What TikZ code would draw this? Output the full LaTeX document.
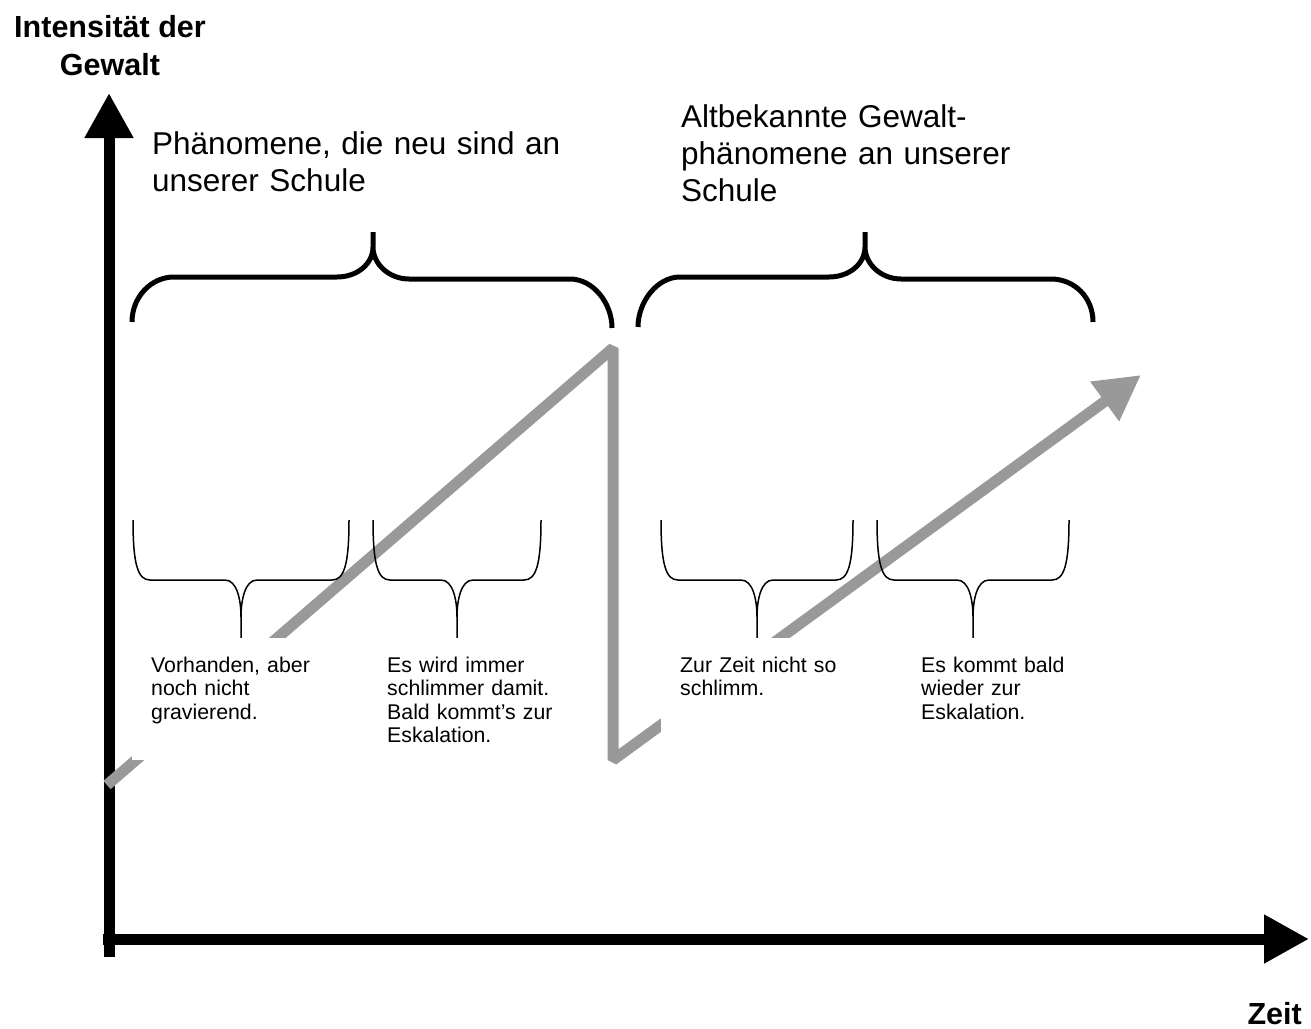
\documentclass[tikz,border=0pt]{standalone}
\usepackage{fontspec}
\setmainfont{Liberation Sans}
\usetikzlibrary{arrows.meta}
\definecolor{trendgray}{RGB}{153,153,153}

\begin{document}
\begin{tikzpicture}[x=1pt,y=-1pt,
	axis/.style={line width=11pt,-{Triangle[length=45pt,width=46pt]}},
	trend/.style={draw=trendgray,line width=11pt,line join=bevel,-{Triangle[length=45pt,width=46pt]}},
	bigbrace/.style={line width=5pt},
	smallbrace/.style={line width=1.5pt},
	phase/.style={fill=white,anchor=north west,text width=180pt,align=left,
		inner sep=0pt,inner xsep=19pt,text height=34pt,text depth=88pt,
		font=\fontsize{21.3}{23.5}\selectfont},
	heading/.style={anchor=base west,text width=460pt,align=left,inner sep=0pt,
		font=\fontsize{31.5}{37}\selectfont},
	axislabel/.style={inner sep=0pt,font=\fontsize{30.5}{38}\selectfont\bfseries}]
\useasboundingbox (0,0) rectangle (1311,1028);

\coordinate (ybot) at (109,957);
\coordinate (ytop) at (109,93);
\coordinate (xleft) at (103,939);
\coordinate (xright) at (1309,939);
\draw[axis] (ybot) -- (ytop);
\draw[axis] (xleft) -- (xright);

\coordinate (start) at (107,785);
\coordinate (peak) at (613,348);
\coordinate (drop) at (613,760);
\coordinate (goal) at (1141,375);
\draw[trend] (start) -- (peak) -- (drop) -- (goal);

\foreach \a/\m/\b/\l/\r in {132/373/612/322/328,638/865/1093/327/322}
	\draw[bigbrace] (\a,\l) .. controls +(0,-25) and +(-23,0) .. (\a+42,277) -- (\m-36,277)
		.. controls +(20,0) and +(0,17) .. (\m,247) -- (\m,232)
		(\m,247) .. controls +(0,17) and +(-20,0) .. (\m+36,279) -- (\b-42,279)
		.. controls +(23,0) and +(0,-25) .. (\b,\r);

\foreach \a/\m/\b in {133/241/349,373/457/541,661/757/853,877/973/1069}
	\draw[smallbrace] (\a,520) .. controls (\a,565) and (\a+5,580) .. (\a+17,580) -- (\m-16,580)
		.. controls (\m-4,580) and (\m,600) .. (\m,617) -- (\m,638)
		(\m,617) .. controls (\m,600) and (\m+4,580) .. (\m+16,580) -- (\b-17,580)
		.. controls (\b-5,580) and (\b,565) .. (\b,520);

\node[phase] (present) at (132,638) {Vorhanden, aber\\noch nicht\\gravierend.};
\node[phase] (worse) at (368,638) {Es wird immer\\schlimmer damit.\\Bald kommt’s zur\\Eskalation.};
\node[phase] (calm) at (661,638) {Zur Zeit nicht so\\schlimm.};
\node[phase] (again) at (902,638) {Es kommt bald\\wieder zur\\Eskalation.};

\node[heading] (newphen) at (152,154) {Phänomene, die neu sind an\\unserer Schule};
\node[heading] (oldphen) at (681,127) {Altbekannte Gewalt-\\phänomene an unserer\\Schule};

\node[axislabel,align=center,anchor=base] (ylabel) at (110,75) {Intensität der\\Gewalt};
\node[axislabel,anchor=base east] (xlabel) at (1302,1024) {Zeit};
\end{tikzpicture}
\end{document}
